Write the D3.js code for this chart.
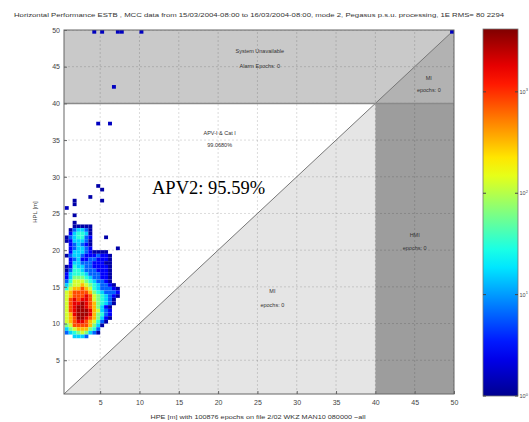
<!DOCTYPE html>
<html>
<head>
<meta charset="utf-8">
<script src="https://cdn.jsdelivr.net/npm/d3@7"></script>
<style>
  body { margin: 0; background: #fff; }
  svg text { font-family: "Liberation Sans", Arial, sans-serif; }
</style>
</head>
<body>
<div id="chart"></div>
<script>
// ---- data ----
var title = "Horizontal Performance ESTB , MCC data from 15/03/2004-08:00 to 16/03/2004-08:00, mode 2, Pegasus p.s.u. processing, 1E RMS= 80 2294";
var xLabel = "HPE [m] with 100876 epochs on file 2/02 WKZ MAN10 080000 ~all";
var yLabel = "HPL [m]";
var axisTicks = [5, 10, 15, 20, 25, 30, 35, 40, 45, 50];
var alarmLimit = 40;
var axisMin = 0.4, axisMax = 50;
var binSize = 0.5;

// density grid: rows from top (hpl) to bottom, columns from hpe = 0.5 by 0.5 m
// level chars: 1..9, a, b  (colour level of log10 count)
var gridHpe0 = 0.5;
var gridHplTop = 23.0;
var densityRows = [
  "001111100000000",
  "013443100000000",
  "024554100000000",
  "134553200010000",
  "124443100000000",
  "023432100000000",
  "023443200000010",
  "024443211110000",
  "134432223221000",
  "023422332221000",
  "024433322211000",
  "125443322221000",
  "135543332221000",
  "245554333221000",
  "246665433221000",
  "357776543321000",
  "467787654332100",
  "578898754333210",
  "789999865433320",
  "78999a976543210",
  "79a9aa976543100",
  "79aaba986543100",
  "79abba986421000",
  "79abbba87432000",
  "78abbba86532000",
  "789bba986421000",
  "789aa9875310000",
  "679999864100000",
  "467888653000000",
  "345676431000000",
  "004443000000000"
];
var levelLog = {"1": 0.1, "2": 0.45, "3": 0.8, "4": 1.2, "5": 1.5, "6": 1.8, "7": 2.1, "8": 2.5, "9": 2.9, "a": 3.25, "b": 3.5};

// isolated epochs (bin lower-left corners)
var sparseHpe = [1.5, 1.5, 0.5, 1.5, 1.5, 3.5, 5.0, 4.5, 5.0, 4.5, 6.0, 6.5, 4.0, 5.0, 7.0, 7.5, 10.0, 49.5];
var sparseHpl = [23.5, 24.5, 25.5, 26.0, 26.5, 27.0, 26.5, 28.5, 28.0, 37.0, 37.0, 42.0, 49.5, 49.5, 49.5, 49.5, 49.5, 49.5];
var sparseLog = [0.1, 0.1, 0.2, 0.1, 0.1, 0.1, 0.1, 0.1, 0.1, 0.2, 0.2, 0.2, 0.2, 0.2, 0.2, 0.2, 0.2, 0.2];

var colorbarMax = 3.62;
var colorbarTicks = [0, 1, 2, 3];

var regionLabels = [
  {x: 25.3, y: 47.0, t: "System Unavailable"},
  {x: 25.3, y: 45.0, t: "Alarm Epochs: 0"},
  {x: 20.2, y: 35.9, t: "APV-I & Cat I"},
  {x: 20.2, y: 34.2, t: "99.0680%"},
  {x: 26.9, y: 14.3, t: "MI"},
  {x: 26.9, y: 12.4, t: "epochs: 0"},
  {x: 45.0, y: 22.0, t: "HMI"},
  {x: 45.0, y: 20.2, t: "epochs: 0"},
  {x: 46.8, y: 43.4, t: "MI"},
  {x: 46.8, y: 41.8, t: "epochs: 0"}
];
var apvText = "APV2: 95.59%";

// ---- drawing ----
var W = 529, H = 422;
var svg = d3.select("#chart").append("svg").attr("width", W).attr("height", H);

var x = d3.scaleLinear().domain([axisMin, axisMax]).range([64, 454]);
var y = d3.scaleLinear().domain([axisMin, axisMax]).range([394, 30]);

var jet = d3.scaleLinear()
  .domain([0, 0.125, 0.375, 0.625, 0.875, 1].map(function(t) { return t * colorbarMax; }))
  .range(["#00008f", "#0000ff", "#00ffff", "#ffff00", "#ff0000", "#800000"])
  .clamp(true);

svg.append("defs").append("clipPath").attr("id", "plotclip")
  .append("rect").attr("x", x(axisMin)).attr("y", y(axisMax))
  .attr("width", x(axisMax) - x(axisMin)).attr("height", y(axisMin) - y(axisMax));

var plot = svg.append("g").attr("clip-path", "url(#plotclip)");

function poly(pts) {
  return pts.map(function(p) { return x(p[0]) + "," + y(p[1]); }).join(" ");
}

// regions
plot.append("polygon").attr("points", poly([[axisMin, axisMin], [axisMin, axisMax], [axisMax, axisMax], [axisMax, axisMin]])).attr("fill", "#fff");
plot.append("polygon").attr("points", poly([[axisMin, alarmLimit], [axisMin, axisMax], [axisMax, axisMax], [axisMax, alarmLimit]])).attr("fill", "#c9c9c9");
plot.append("polygon").attr("points", poly([[alarmLimit, alarmLimit], [axisMax, axisMax], [axisMax, alarmLimit]])).attr("fill", "#b2b2b2");
plot.append("polygon").attr("points", poly([[axisMin, axisMin], [alarmLimit, alarmLimit], [alarmLimit, axisMin]])).attr("fill", "#e5e5e5");
plot.append("polygon").attr("points", poly([[alarmLimit, axisMin], [alarmLimit, alarmLimit], [axisMax, alarmLimit], [axisMax, axisMin]])).attr("fill", "#9d9d9d");

// grid
var grid = plot.append("g").attr("stroke", "#000").attr("stroke-opacity", 0.18)
  .attr("stroke-dasharray", "2,2").attr("stroke-width", 0.8);
grid.selectAll(".vx").data(axisTicks).join("line")
  .attr("x1", function(d) { return x(d); }).attr("x2", function(d) { return x(d); })
  .attr("y1", y(axisMin)).attr("y2", y(axisMax));
grid.selectAll(".hy").data(axisTicks).join("line")
  .attr("y1", function(d) { return y(d); }).attr("y2", function(d) { return y(d); })
  .attr("x1", x(axisMin)).attr("x2", x(axisMax));

// boundaries
plot.append("line").attr("x1", x(axisMin)).attr("y1", y(axisMin)).attr("x2", x(axisMax)).attr("y2", y(axisMax))
  .attr("stroke", "#777").attr("stroke-width", 1);
plot.append("line").attr("x1", x(axisMin)).attr("x2", x(axisMax)).attr("y1", y(alarmLimit)).attr("y2", y(alarmLimit))
  .attr("stroke", "#8a8a8a").attr("stroke-width", 1.5);

// density cells
var cells = [];
densityRows.forEach(function(row, r) {
  for (var c = 0; c < row.length; c++) {
    var ch = row[c];
    if (ch === "0") continue;
    cells.push({hpe: gridHpe0 + c * binSize, hpl: gridHplTop - r * binSize, v: levelLog[ch]});
  }
});
sparseHpe.forEach(function(h, i) {
  cells.push({hpe: h, hpl: sparseHpl[i], v: sparseLog[i]});
});

plot.append("g").selectAll("rect").data(cells).join("rect")
  .attr("x", function(d) { return x(d.hpe); })
  .attr("y", function(d) { return y(d.hpl + binSize); })
  .attr("width", function(d) { return x(d.hpe + binSize) - x(d.hpe); })
  .attr("height", function(d) { return y(d.hpl) - y(d.hpl + binSize); })
  .attr("fill", function(d) { return jet(d.v); });

// region labels
svg.append("g").selectAll("text").data(regionLabels).join("text")
  .attr("x", function(d) { return x(d.x); }).attr("y", function(d) { return y(d.y); })
  .attr("text-anchor", "middle").attr("dominant-baseline", "middle")
  .attr("font-size", 5.5).attr("fill", "#333").text(function(d) { return d.t; });

// frame
svg.append("rect").attr("x", x(axisMin)).attr("y", y(axisMax))
  .attr("width", x(axisMax) - x(axisMin)).attr("height", y(axisMin) - y(axisMax))
  .attr("fill", "none").attr("stroke", "#666").attr("stroke-width", 1);

// axes
var xAxis = svg.append("g").attr("transform", "translate(0," + y(axisMin) + ")")
  .call(d3.axisBottom(x).tickValues(axisTicks).tickSize(-3).tickPadding(6));
var yAxis = svg.append("g").attr("transform", "translate(" + x(axisMin) + ",0)")
  .call(d3.axisLeft(y).tickValues(axisTicks).tickSize(-3).tickPadding(4));
[xAxis, yAxis].forEach(function(a) {
  a.select(".domain").remove();
  a.selectAll(".tick line").attr("stroke", "#666");
  a.selectAll(".tick text").attr("font-size", 7).attr("fill", "#444")
    .attr("font-family", "Liberation Sans, Arial, sans-serif");
});

// titles
svg.append("text").attr("x", 259).attr("y", 17).attr("text-anchor", "middle")
  .attr("font-size", 5.6).attr("fill", "#333").attr("textLength", 490).attr("lengthAdjust", "spacingAndGlyphs")
  .text(title);
svg.append("text").attr("x", 258).attr("y", 419).attr("text-anchor", "middle")
  .attr("font-size", 5.6).attr("fill", "#333").attr("textLength", 215).attr("lengthAdjust", "spacingAndGlyphs")
  .text(xLabel);
svg.append("text").attr("transform", "translate(37,212) rotate(-90)").attr("text-anchor", "middle")
  .attr("font-size", 6).attr("fill", "#444").text(yLabel);

svg.append("text").attr("x", 152).attr("y", 194)
  .style("font-family", "'Liberation Serif', 'Times New Roman', serif")
  .attr("font-size", 18.5).attr("fill", "#000").text(apvText);

// colorbar
var cb = d3.scaleLinear().domain([0, colorbarMax]).range([396, 29]);
var grad = svg.select("defs").append("linearGradient").attr("id", "jetgrad")
  .attr("x1", 0).attr("y1", 1).attr("x2", 0).attr("y2", 0);
d3.range(0, 1.0001, 0.05).forEach(function(t) {
  grad.append("stop").attr("offset", t).attr("stop-color", jet(t * colorbarMax));
});
svg.append("rect").attr("x", 483).attr("y", cb(colorbarMax)).attr("width", 35)
  .attr("height", cb(0) - cb(colorbarMax)).attr("fill", "url(#jetgrad)")
  .attr("stroke", "#777").attr("stroke-width", 0.8);
var cbt = svg.append("g");
colorbarTicks.forEach(function(t) {
  cbt.append("line").attr("x1", 483).attr("x2", 486).attr("y1", cb(t)).attr("y2", cb(t)).attr("stroke", "#444");
  cbt.append("line").attr("x1", 515).attr("x2", 518).attr("y1", cb(t)).attr("y2", cb(t)).attr("stroke", "#444");
  var tx = cbt.append("text").attr("x", 519.5).attr("y", cb(t) + 2).attr("font-size", 5.5).attr("fill", "#444");
  tx.append("tspan").text("10");
  tx.append("tspan").attr("dy", -2.5).attr("font-size", 4).text(t);
});
</script>
</body>
</html>
